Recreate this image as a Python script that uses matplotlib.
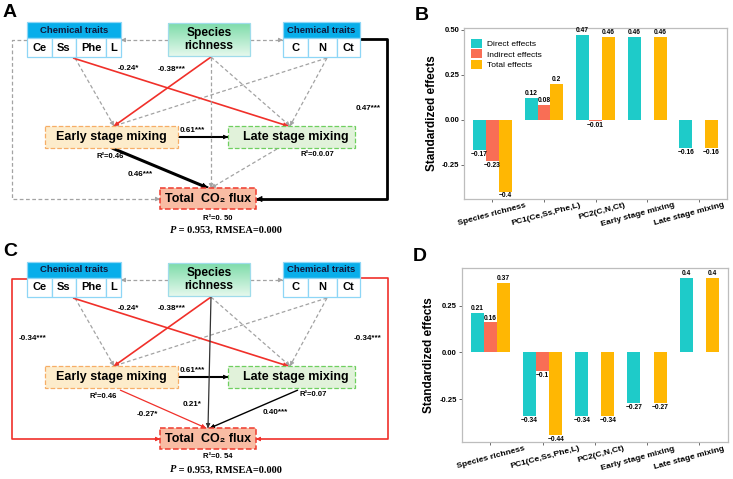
import matplotlib
matplotlib.use('Agg')
import matplotlib.pyplot as plt
import matplotlib.transforms as mtransforms
import numpy as np
from matplotlib.patches import Rectangle

plt.rcParams['font.family'] = ['Liberation Sans', 'DejaVu Sans']

# ---- bar chart data (B: upper, D: lower) ----
factors = ['Species richness', 'PC1(Ce,Ss,Phe,L)', 'PC2(C,N,Ct)',
           'Early stage mixing', 'Late stage mixing']
effect_types = ['Direct effects', 'Indirect effects', 'Total effects']
direct_B = [-0.17, 0.12, 0.47, 0.46, -0.16]
indirect_B = [-0.23, 0.08, -0.01, np.nan, np.nan]
total_B = [-0.4, 0.2, 0.46, 0.46, -0.16]
direct_D = [0.21, -0.34, -0.34, -0.27, 0.4]
indirect_D = [0.16, -0.1, np.nan, np.nan, np.nan]
total_D = [0.37, -0.44, -0.34, -0.27, 0.4]
effect_colors = ['#1ecbc9', '#f96e55', '#ffb703']

# ---- SEM diagram text ----
left_traits = ['Ce', 'Ss', 'Phe', 'L']
right_traits = ['C', 'N', 'Ct']
coef_A = {'ss_late': '-0.24*', 'sr_early': '-0.38***', 'early_late': '0.61***',
          'early_co2': '0.46***', 'pc2_co2': '0.47***'}
r2_A = ['R\u00b2=0.46', 'R\u00b2=0.0.07', 'R\u00b2=0. 50']
coef_C = {'ss_late': '-0.24*', 'sr_early': '-0.38***', 'early_late': '0.61***',
          'pc1_co2': '-0.34***', 'pc2_co2': '-0.34***', 'sr_co2': '0.21*',
          'early_co2': '-0.27*', 'late_co2': '0.40***'}
r2_C = ['R\u00b2=0.46', 'R\u00b2=0.07', 'R\u00b2=0. 54']
fit_stats = ' = 0.953, RMSEA=0.000'

GRAY = '#a3a3a3'
RED = '#f0302a'


def box(ax, x0, y0, x1, y1, fc, ec, ls='-', lw=0.9, z=3):
    ax.add_patch(Rectangle((x0, y0), x1 - x0, y1 - y0, fc=fc, ec=ec,
                           ls=ls, lw=lw, zorder=z))


def path(ax, pts, color, lw, ls='-', head=5):
    xs, ys = zip(*pts)
    if ls == '--':
        ax.plot(xs, ys, color=color, lw=lw, dashes=(3, 2), zorder=2)
    else:
        ax.plot(xs, ys, color=color, lw=lw, zorder=2, solid_capstyle='butt')
    (xa, ya), (xb, yb) = pts[-2], pts[-1]
    d = np.hypot(xb - xa, yb - ya)
    start = (xb - (xb - xa) / d * head, yb - (yb - ya) / d * head)
    ax.annotate('', xy=(xb, yb), xytext=start,
                arrowprops=dict(arrowstyle='-|>', color=color, lw=0.6,
                                shrinkA=0, shrinkB=0, mutation_scale=head * 1.3),
                zorder=2)


def traits_box(ax, x0, x1, oy, cells, widths):
    box(ax, x0, oy + 22, x1, oy + 38, '#08aeea', '#8ed6f6')
    ax.text((x0 + x1) / 2, oy + 30, 'Chemical traits', ha='center', va='center',
            fontsize=6.8, fontweight='bold', color='#10183a', zorder=4)
    x = x0
    for c, w in zip(cells, widths):
        box(ax, x, oy + 38, x + w, oy + 57, 'white', '#8ed6f6')
        ax.text(x + w / 2, oy + 47.5, c, ha='center', va='center',
                fontsize=8, fontweight='bold', zorder=4)
        x += w


def lbl(ax, x, y, s, fs=5.8):
    ax.text(x, y, s, ha='center', va='center', fontsize=fs, fontweight='bold',
            zorder=5)


def sem(ax, oy, letter, coefs, r2s, variant):
    ax.text(3, oy + 12, letter, fontsize=14, fontweight='bold', va='center')
    traits_box(ax, 27, 121, oy, left_traits, [25, 24, 30, 15])
    traits_box(ax, 283, 360, oy, right_traits, [25, 29, 23])
    # species richness with gradient
    grad = np.linspace(0, 1, 50)[:, None]
    cmap = matplotlib.colors.LinearSegmentedColormap.from_list(
        'g', ['#7edcaa', '#e4f8ec'])
    ax.imshow(grad, cmap=cmap, extent=(168, 250, oy + 56, oy + 23),
              aspect='auto', zorder=3)
    box(ax, 168, oy + 23, 250, oy + 56, 'none', '#9fdcea', z=3.5)
    ax.text(209, oy + 39.5, 'Species\nrichness', ha='center', va='center',
            fontsize=8.6, fontweight='bold', linespacing=1.15, zorder=4)
    # process boxes
    box(ax, 45, oy + 126, 178, oy + 148, '#fdeccb', '#f6ad66', ls='--')
    ax.text(111, oy + 137, 'Early stage mixing', ha='center', va='center',
            fontsize=9, fontweight='bold', zorder=4)
    box(ax, 228, oy + 126, 355, oy + 148, '#e1f2da', '#6fcf5f', ls='--')
    ax.text(296, oy + 137, 'Late stage mixing', ha='center', va='center',
            fontsize=9, fontweight='bold', zorder=4)
    box(ax, 160, oy + 188, 256, oy + 209, '#f9bca3', '#ef3a2e', ls='--', lw=1.1)
    ax.text(208, oy + 198.5, 'Total  CO\u2082 flux', ha='center', va='center',
            fontsize=9, fontweight='bold', zorder=4)

    # non-significant paths
    path(ax, [(168, oy + 40), (121, oy + 40)], GRAY, 0.9, '--')
    path(ax, [(250, oy + 40), (283, oy + 40)], GRAY, 0.9, '--')
    path(ax, [(75, oy + 58), (114, oy + 126)], GRAY, 0.9, '--')
    path(ax, [(327, oy + 58), (114, oy + 126)], GRAY, 0.9, '--')
    path(ax, [(327, oy + 58), (290, oy + 126)], GRAY, 0.9, '--')
    path(ax, [(211, oy + 57), (290, oy + 126)], GRAY, 0.9, '--')

    # significant paths shared by both models
    path(ax, [(73, oy + 58), (288, oy + 126)], RED, 1.2)
    path(ax, [(211, oy + 57), (114, oy + 126)], RED, 1.2)
    path(ax, [(178, oy + 137), (228, oy + 137)], 'black', 1.5)
    lbl(ax, 128, oy + 68, coefs['ss_late'])
    lbl(ax, 172, oy + 69, coefs['sr_early'])
    lbl(ax, 192, oy + 131, coefs['early_late'])

    if variant == 'A':
        path(ax, [(27, oy + 40), (12, oy + 40), (12, oy + 199), (160, oy + 199)],
             GRAY, 0.9, '--')
        path(ax, [(211, oy + 57), (211, oy + 188)], GRAY, 0.9, '--')
        path(ax, [(277, oy + 149), (211, oy + 188)], GRAY, 0.9, '--')
        path(ax, [(112, oy + 148), (208, oy + 188)], 'black', 2.2, head=7)
        path(ax, [(360, oy + 39), (387, oy + 39), (387, oy + 199), (256, oy + 199)],
             'black', 2.0, head=7)
        lbl(ax, 140, oy + 174, coefs['early_co2'])
        lbl(ax, 368, oy + 108, coefs['pc2_co2'])
        r2_pos = [(110, 157), (317, 155), (218, 218)]
    else:
        path(ax, [(27, oy + 39), (12, oy + 39), (12, oy + 199), (160, oy + 199)],
             RED, 1.2)
        path(ax, [(360, oy + 38), (388, oy + 38), (388, oy + 199), (256, oy + 199)],
             RED, 1.2)
        path(ax, [(211, oy + 57), (208, oy + 188)], '#333333', 0.9)
        path(ax, [(120, oy + 150), (206, oy + 188)], RED, 0.9)
        path(ax, [(298, oy + 150), (210, oy + 188)], 'black', 1.0)
        lbl(ax, 33, oy + 98, coefs['pc1_co2'])
        lbl(ax, 368, oy + 98, coefs['pc2_co2'])
        lbl(ax, 192, oy + 165, coefs['sr_co2'])
        lbl(ax, 147, oy + 175, coefs['early_co2'])
        lbl(ax, 275, oy + 173, coefs['late_co2'])
        r2_pos = [(103, 156), (313, 154), (218, 217)]
    for s, (x, y) in zip(r2s, r2_pos):
        lbl(ax, x, oy + y, s, fs=5.5)
    ax.text(176, oy + 230, 'P', ha='right', va='center', fontsize=7.5,
            fontweight='bold', style='italic', family='Liberation Serif')
    ax.text(176, oy + 230, fit_stats, ha='left', va='center', fontsize=7.5,
            fontweight='bold', family='Liberation Serif')


def fmt(v):
    return ('%g' % v).replace('-', '\u2212')


def bars(fig, rect, series, ylim, yticks, letter, legend):
    ax = fig.add_axes(rect)
    x = np.arange(len(factors))
    w = 0.25
    for k, (vals, col, name) in enumerate(zip(series, effect_colors, effect_types)):
        vals = np.array(vals, dtype=float)
        ok = ~np.isnan(vals)
        xs = x[ok] + (k - 1) * w
        ax.bar(xs, vals[ok], width=w, color=col, label=name, zorder=2)
        for xi, v in zip(xs, vals[ok]):
            ax.text(xi, v + (0.005 if v > 0 else -0.005), fmt(v), ha='center',
                    va='bottom' if v > 0 else 'top', fontsize=4.8,
                    fontweight='bold')
    ax.set_xlim(-0.55, len(factors) - 0.45)
    ax.set_ylim(*ylim)
    ax.set_yticks(yticks)
    ax.set_yticklabels(['%.2f' % t for t in yticks],
                       fontsize=5.5, fontweight='bold')
    ax.set_xticks(x)
    ax.set_xticklabels([])
    # rotated category labels, nudged a little sideways (pixels)
    base = ax.get_xaxis_transform()
    for xi, name, dx in zip(x, factors, [0, 2, 6, -9, -10]):
        off = mtransforms.ScaledTranslation(dx / 100, -3 / 100,
                                            fig.dpi_scale_trans)
        ax.text(xi, 0, name, transform=base + off, rotation=15, ha='center',
                va='top', fontsize=6.1, fontweight='bold')
    ax.tick_params(length=2, width=0.6, color='#555555', pad=1.5)
    ax.set_ylabel('Standardized effects', fontsize=8.5, fontweight='bold',
                  labelpad=3)
    for s in ax.spines.values():
        s.set_color('#bdbdbd')
        s.set_linewidth(0.9)
    if legend:
        ax.legend(loc='upper left', bbox_to_anchor=(0.0, 0.98), fontsize=6,
                  frameon=False, handlelength=1.3, handleheight=1.3,
                  labelspacing=0.15, handletextpad=0.6)
    fig.text(rect[0] - 0.067, rect[1] + rect[3] + 0.025, letter, fontsize=14,
             fontweight='bold', va='center')
    return ax


fig = plt.figure(figsize=(7.33, 4.79), dpi=100)
canvas = fig.add_axes([0, 0, 1, 1])
canvas.set_xlim(0, 733)
canvas.set_ylim(479, 0)
canvas.axis('off')

sem(canvas, 0, 'A', coef_A, r2_A, 'A')
sem(canvas, 240, 'C', coef_C, r2_C, 'C')
canvas.set_xlim(0, 733)
canvas.set_ylim(479, 0)

bars(fig, [0.633, 0.585, 0.359, 0.357], [direct_B, indirect_B, total_B],
     (-0.44, 0.51), [-0.25, 0, 0.25, 0.5], 'B', True)
bars(fig, [0.630, 0.077, 0.363, 0.363], [direct_D, indirect_D, total_D],
     (-0.48, 0.45), [-0.25, 0, 0.25], 'D', False)

fig.savefig('out.png', dpi=100)
